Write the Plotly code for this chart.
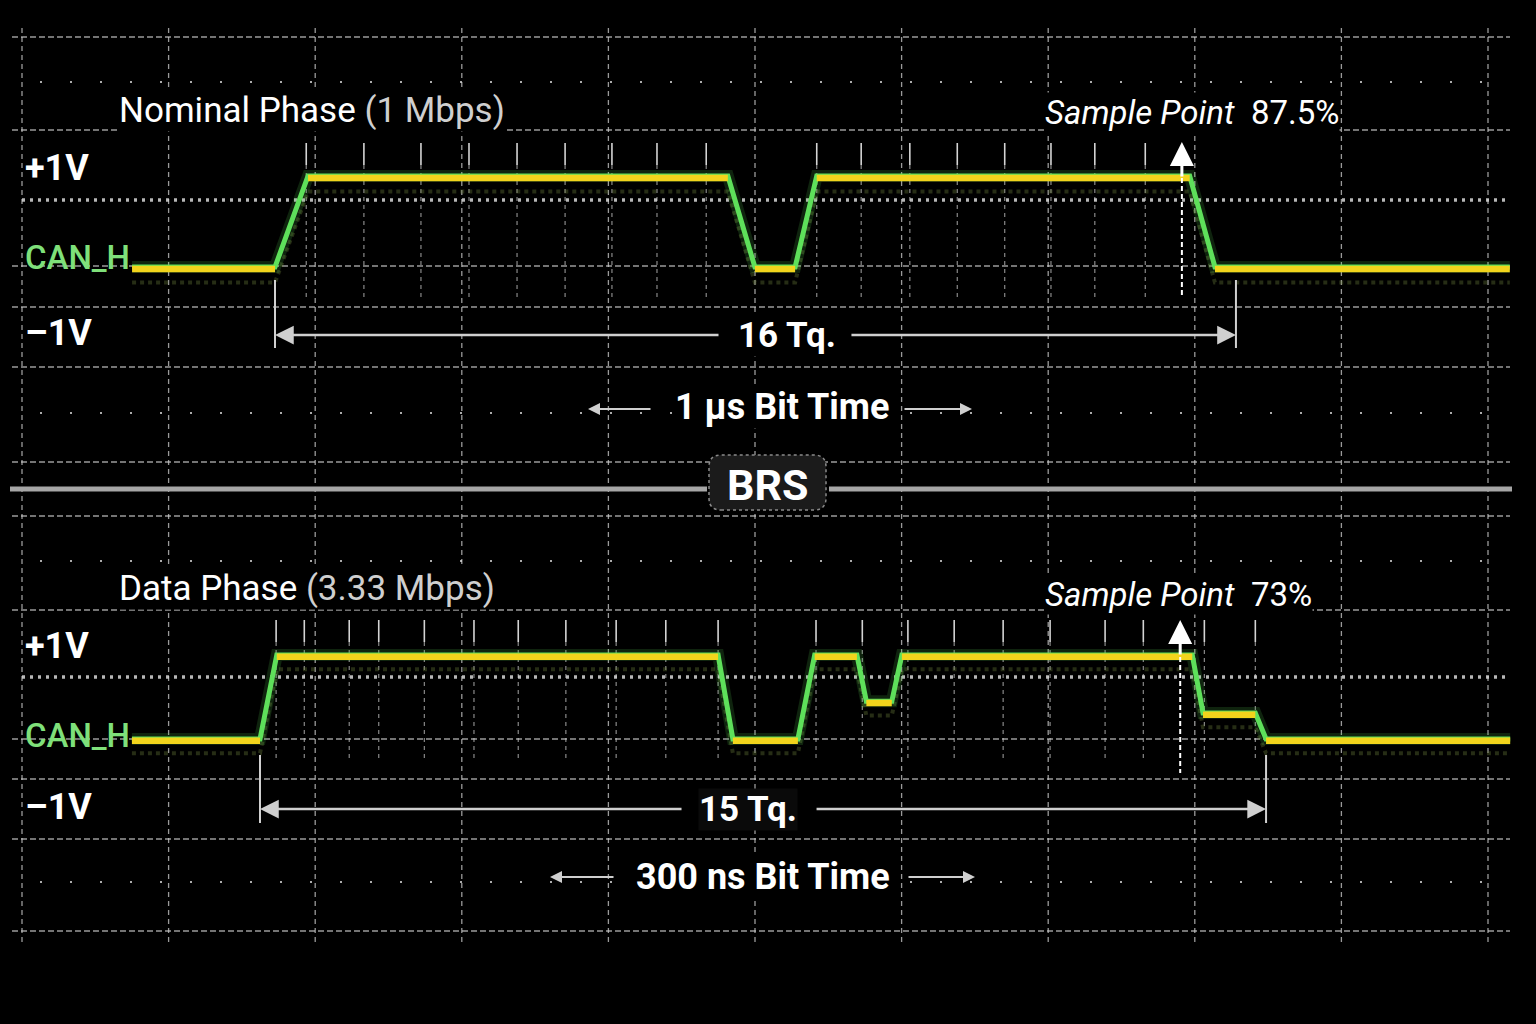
import plotly.graph_objects as go

# ---------------- data (time in Tq, level in volts) ----------------
top_t = [-2.38, 0.0, 0.55, 7.54, 7.99, 8.66, 9.02, 15.23, 15.65, 20.56]
top_v = [2.5, 2.5, 3.5, 3.5, 2.5, 2.5, 3.5, 3.5, 2.5, 2.5]

bot_t = [-1.91, 0.0, 0.25, 6.83, 7.05, 8.02, 8.27, 8.90, 9.04, 9.42, 9.57,
         13.90, 14.06, 14.84, 15.0, 18.64]
bot_v = [2.5, 2.5, 3.5, 3.5, 2.5, 2.5, 3.5, 3.5, 2.95, 2.95, 3.5, 3.5,
         2.81, 2.81, 2.5, 2.5]

top_tq_ticks = [0.52, 1.48, 2.43, 3.23, 4.03, 4.83, 5.61, 6.36, 7.18, 9.02,
                9.76, 10.57, 11.36, 12.15, 12.92, 13.65, 14.49]
bot_tq_ticks = [0.24, 0.66, 1.33, 1.77, 2.45, 3.19, 3.85, 4.56, 5.31, 6.05,
                6.83, 8.29, 8.98, 9.66, 10.35, 11.08, 11.78, 12.60, 13.17,
                14.08, 14.84]

top_bit_tq = 16
bot_bit_tq = 15
top_sample_tq = 15.10
bot_sample_tq = 13.72

top_title = "Nominal Phase"
top_rate = "(1 Mbps)"
bot_title = "Data Phase"
bot_rate = "(3.33 Mbps)"
top_sp_label = "87.5%"
bot_sp_label = "73%"
top_bit_time = "1 µs Bit Time"
bot_bit_time = "300 ns Bit Time"

W, H = 1536, 1024
FONT = "'Liberation Sans Narrow', Roboto, sans-serif"
GREEN = "#5ee05a"
YELLOW = "#f2d41c"
GRID = "rgba(205,205,205,0.75)"


def X(px):
    return px / W


def Y(px):
    return 1 - px / H


def flats(t, v):
    xs, ys = [], []
    for i in range(len(t) - 1):
        if v[i] == v[i + 1]:
            xs += [t[i], t[i + 1], None]
            ys += [v[i], v[i + 1], None]
    return xs, ys


fig = go.Figure()

for t, v, xa, ya in [(top_t, top_v, "x", "y"), (bot_t, bot_v, "x2", "y2")]:
    # phosphor persistence shadow
    fig.add_trace(go.Scatter(x=t, y=[a - 0.17 for a in v], mode="lines",
                             line=dict(color="rgba(110,130,60,0.35)", width=4, dash="dot"),
                             xaxis=xa, yaxis=ya, hoverinfo="skip", showlegend=False))
    fig.add_trace(go.Scatter(x=t, y=v, mode="lines",
                             line=dict(color="rgba(94,224,90,0.16)", width=12),
                             xaxis=xa, yaxis=ya, hoverinfo="skip", showlegend=False))
    fig.add_trace(go.Scatter(x=t, y=v, mode="lines",
                             line=dict(color=GREEN, width=5),
                             xaxis=xa, yaxis=ya, showlegend=False))
    fx, fy = flats(t, v)
    fig.add_trace(go.Scatter(x=fx, y=[(a - 0.022) if a is not None else None for a in fy],
                             mode="lines",
                             line=dict(color=YELLOW, width=6.5),
                             xaxis=xa, yaxis=ya, showlegend=False))

shapes = []
# ---------- grid ----------
for i in range(11):
    x = X(22 + 146.6 * i)
    shapes.append(dict(type="line", xref="paper", yref="paper", x0=x, x1=x,
                       y0=Y(28), y1=Y(943), layer="below",
                       line=dict(color=GRID, width=1.3, dash="5px,4px")))
for yp in [37, 130, 266, 307, 367, 462, 516, 610, 739, 779, 839, 931]:
    shapes.append(dict(type="line", xref="paper", yref="paper", x0=X(12), x1=X(1510),
                       y0=Y(yp), y1=Y(yp), layer="below",
                       line=dict(color=GRID, width=1.6, dash="6px,3px")))
for yp in [200, 677]:
    shapes.append(dict(type="line", xref="paper", yref="paper", x0=X(22), x1=X(1510),
                       y0=Y(yp), y1=Y(yp), layer="below",
                       line=dict(color="rgba(215,215,215,0.85)", width=3.5, dash="3px,5px")))
for yp in [82, 413, 561, 882]:
    shapes.append(dict(type="line", xref="paper", yref="paper", x0=X(40), x1=X(1510),
                       y0=Y(yp), y1=Y(yp), layer="below",
                       line=dict(color="rgba(215,215,215,0.8)", width=2, dash="2px,28px")))

# ---------- Tq tick marks ----------
for ticks, xr, ys, ye in [(top_tq_ticks, "x", 143, 297), (bot_tq_ticks, "x2", 620, 760)]:
    for tk in ticks:
        shapes.append(dict(type="line", xref=xr, yref="paper", x0=tk, x1=tk,
                           y0=Y(ys), y1=Y(ys + 22), layer="below",
                           line=dict(color="rgba(235,235,235,0.9)", width=1.6)))
        shapes.append(dict(type="line", xref=xr, yref="paper", x0=tk, x1=tk,
                           y0=Y(ys + 22), y1=Y(ye), layer="below",
                           line=dict(color="rgba(210,210,210,0.65)", width=1.2, dash="4px,4px")))

# ---------- sample point dashed markers ----------
shapes.append(dict(type="line", xref="x", yref="paper", x0=top_sample_tq, x1=top_sample_tq,
                   y0=Y(178), y1=Y(297), line=dict(color="white", width=2, dash="5px,3px")))
shapes.append(dict(type="line", xref="x2", yref="paper", x0=bot_sample_tq, x1=bot_sample_tq,
                   y0=Y(657), y1=Y(773), line=dict(color="white", width=2, dash="5px,3px")))

# ---------- dimension end bars ----------
for xr, x0, x1, ys, ye in [("x", 0, top_bit_tq, 280, 348), ("x2", 0, bot_bit_tq, 755, 823)]:
    for xx in (x0, x1):
        shapes.append(dict(type="line", xref=xr, yref="paper", x0=xx, x1=xx,
                           y0=Y(ys), y1=Y(ye), line=dict(color="#d0d0d0", width=2)))

# ---------- BRS separator ----------
shapes.append(dict(type="line", xref="paper", yref="paper", x0=X(10), x1=X(707),
                   y0=Y(489), y1=Y(489), line=dict(color="#a6a6a6", width=5)))
shapes.append(dict(type="line", xref="paper", yref="paper", x0=X(829), x1=X(1512),
                   y0=Y(489), y1=Y(489), line=dict(color="#a6a6a6", width=5)))
bx0, bx1, by0, by1, r = X(709), X(826), Y(510), Y(455), 12
rx, ry = r / W, r / H
path = (f"M {bx0+rx},{by0} L {bx1-rx},{by0} Q {bx1},{by0} {bx1},{by0+ry} "
        f"L {bx1},{by1-ry} Q {bx1},{by1} {bx1-rx},{by1} L {bx0+rx},{by1} "
        f"Q {bx0},{by1} {bx0},{by1-ry} L {bx0},{by0+ry} Q {bx0},{by0} {bx0+rx},{by0} Z")
shapes.append(dict(type="path", xref="paper", yref="paper", path=path,
                   fillcolor="#1b1b1b", line=dict(color="#8a8a8a", width=1.5, dash="dot")))

ann = []


def txt(text, xp, yp, size, color="white", anchor="left", bold=False, bg="black", weight=None):
    if bold:
        text = f"<b>{text}</b>"
    f = dict(family=FONT, size=size, color=color)
    if weight:
        f["weight"] = weight
    ann.append(dict(text=text, x=X(xp), y=Y(yp), xref="paper", yref="paper",
                    xanchor=anchor, yanchor="middle", showarrow=False,
                    bgcolor=bg, borderpad=0, font=f))


txt(f"{top_title} <span style='color:#cfcfcf'>{top_rate}</span>", 118, 110, 35)
txt(f"{bot_title} <span style='color:#cfcfcf'>{bot_rate}</span>", 118, 588, 35)
txt(f"<i>Sample Point</i>  {top_sp_label}", 1044, 112, 33)
txt(f"<i>Sample Point</i>  {bot_sp_label}", 1044, 594, 33)
for y0 in (0, 478):
    txt("+1V", 24, 168 + y0, 36, bold=True)
    txt("CAN_H", 24, 257 + y0, 33, color="#7fe07a", bg="rgba(0,0,0,0)", weight=500)
txt("–1V", 24, 333, 36, bold=True)
txt("–1V", 24, 807, 36, bold=True)
txt("16 Tq.", 787, 335, 35, anchor="center", bold=True)
txt("15 Tq.", 748, 809, 35, anchor="center", bold=True, bg="#0a0a0a")
txt(top_bit_time, 782, 407, 36, anchor="center", bold=True)
txt(bot_bit_time, 763, 877, 36, anchor="center", bold=True)
ann.append(dict(text="<b>BRS</b>", x=X(767), y=Y(485), xref="paper", yref="paper",
                showarrow=False, xanchor="center", yanchor="middle",
                font=dict(family=FONT, size=43, color="white")))


def arrow(x, xref, yp, ax, ay=0, size=1.5, width=2.5, color="#cfcfcf"):
    ann.append(dict(text="", x=x, xref=xref, y=Y(yp), yref="paper",
                    ax=ax, ay=ay, axref="pixel", ayref="pixel",
                    showarrow=True, arrowhead=2, arrowsize=size, arrowwidth=width,
                    arrowcolor=color, standoff=0, startstandoff=0))


# dimension arrows (Tq spans)
arrow(0, "x", 335, 720 - 275)
arrow(top_bit_tq, "x", 335, 850 - 1236)
arrow(0, "x2", 809, 683 - 260)
arrow(bot_bit_tq, "x2", 809, 815 - 1266)
# bit time arrows
arrow(X(588), "paper", 409, 64, size=1.2, width=2)
arrow(X(972), "paper", 409, -69, size=1.2, width=2)
arrow(X(550), "paper", 877, 65, size=1.2, width=2)
arrow(X(975), "paper", 877, -68, size=1.2, width=2)
# sample point arrows
arrow(top_sample_tq, "x", 142, 0, ay=36, size=1.6, width=3, color="white")
arrow(bot_sample_tq, "x2", 620, 0, ay=36, size=1.6, width=3, color="white")

ax_common = dict(visible=False, showgrid=False, zeroline=False, fixedrange=True)
fig.update_layout(
    width=W, height=H,
    margin=dict(l=0, r=0, t=0, b=0),
    paper_bgcolor="black", plot_bgcolor="rgba(0,0,0,0)",
    showlegend=False,
    xaxis=dict(domain=[0, 1], range=[-4.579, 20.996], anchor="y", **ax_common),
    yaxis=dict(domain=[0.5, 1], range=[-0.192, 5.434], anchor="x", **ax_common),
    xaxis2=dict(domain=[0, 1], range=[-3.877, 19.025], anchor="y2", **ax_common),
    yaxis2=dict(domain=[0, 0.5], range=[-0.893, 5.202], anchor="x2", **ax_common),
    shapes=shapes,
    annotations=ann,
)

fig.write_html(
    "out.html",
    config={"displayModeBar": False},
    post_script="document.body.style.margin='0';document.body.style.background='black';",
)
